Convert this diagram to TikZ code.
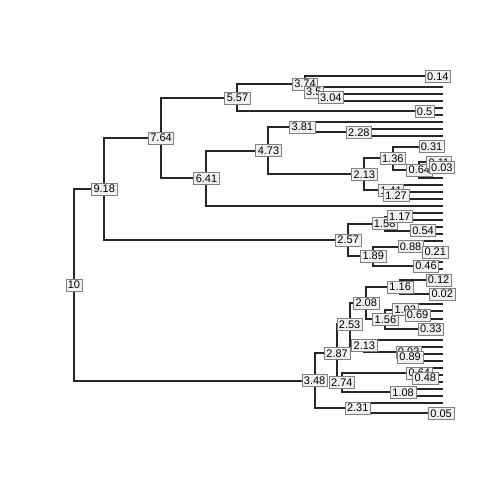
\documentclass[tikz,border=0pt]{standalone}
\usepackage{fontspec}
\setmainfont{Liberation Sans}
\usetikzlibrary{calc}

% internal node: name, height, first child, last child
\newcommand\inode[4]{%
  \path let \p1 = ($(#3)!.5!(#4)$) in coordinate (#1) at ({(443-36.9*#2)*1pt}, \y1);
  \draw[edge] (#1) |- (#3) (#1) |- (#4);
}

\begin{document}
\begin{tikzpicture}[
  x=1pt, y=-1pt,
  edge/.style={line width=2pt, black!85},
  lab/.style={draw=gray, fill=gray!12, line width=0.6pt, inner xsep=2pt,
              inner ysep=0pt, minimum height=12pt,
              font=\fontsize{11}{11}\selectfont}
]
\useasboundingbox (0,0) rectangle (504,504);

% tips
\foreach \k in {1,...,50}
  \coordinate (t\k) at (443, {72.8+(\k-1)*7.02});

% upper clade
\inode{h014}{0.14}{t1}{t2}
\inode{h304}{3.04}{t4}{t5}
\inode{h350}{3.5}{t3}{h304}
\inode{h374}{3.74}{h014}{h350}
\inode{h050}{0.5}{t6}{t7}
\inode{h557}{5.57}{h374}{h050}
\inode{h228}{2.28}{t9}{t10}
\inode{h381}{3.81}{t8}{h228}
\inode{h031}{0.31}{t11}{t12}
\inode{h003}{0.03}{t14}{t15}
\inode{h011}{0.11}{t13}{h003}
\inode{h064a}{0.64}{h011}{t16}
\inode{h136}{1.36}{h031}{h064a}
\inode{h127}{1.27}{t18}{t19}
\inode{h141}{1.41}{t17}{h127}
\inode{h213a}{2.13}{h136}{h141}
\inode{h473}{4.73}{h381}{h213a}
\inode{h641}{6.41}{h473}{t20}
\inode{h764}{7.64}{h557}{h641}
\inode{h117}{1.17}{t21}{t22}
\inode{h054}{0.54}{t23}{t24}
\inode{h158}{1.58}{h117}{h054}
\inode{h021}{0.21}{t26}{t27}
\inode{h088}{0.88}{t25}{h021}
\inode{h046}{0.46}{t28}{t29}
\inode{h189}{1.89}{h088}{h046}
\inode{h257}{2.57}{h158}{h189}
\inode{h918}{9.18}{h764}{h257}

% lower clade
\inode{h012}{0.12}{t30}{t31}
\inode{h002}{0.02}{t32}{t33}
\inode{h116}{1.16}{h012}{h002}
\inode{h069}{0.69}{t35}{t36}
\inode{h102}{1.02}{t34}{h069}
\inode{h033}{0.33}{t37}{t38}
\inode{h156}{1.56}{h102}{h033}
\inode{h208}{2.08}{h116}{h156}
\inode{h089}{0.89}{t41}{t42}
\inode{h093}{0.93}{t40}{h089}
\inode{h213b}{2.13}{t39}{h093}
\inode{h253}{2.53}{h208}{h213b}
\inode{h048}{0.48}{t44}{t45}
\inode{h064b}{0.64}{t43}{h048}
\inode{h108}{1.08}{t46}{t47}
\inode{h274}{2.74}{h064b}{h108}
\inode{h287}{2.87}{h253}{h274}
\inode{h005}{0.05}{t49}{t50}
\inode{h231}{2.31}{t48}{h005}
\inode{h348}{3.48}{h287}{h231}
\inode{h10}{10}{h918}{h348}

% node labels
\foreach \n/\t in {h10/10, h918/9.18, h764/7.64, h557/5.57, h374/3.74, h014/0.14,
    h350/3.5, h304/3.04, h050/0.5, h641/6.41, h473/4.73, h381/3.81, h228/2.28,
    h213a/2.13, h136/1.36, h031/0.31, h064a/0.64, h011/0.11, h003/0.03,
    h141/1.41, h127/1.27, h257/2.57, h158/1.58, h117/1.17, h054/0.54,
    h189/1.89, h088/0.88, h021/0.21, h046/0.46, h348/3.48, h287/2.87,
    h253/2.53, h208/2.08, h116/1.16, h012/0.12, h002/0.02, h156/1.56,
    h102/1.02, h069/0.69, h033/0.33, h213b/2.13, h093/0.93, h089/0.89,
    h274/2.74, h064b/0.64, h048/0.48, h108/1.08, h231/2.31, h005/0.05}
  \node[lab] at (\n) {\t};
\end{tikzpicture}
\end{document}
